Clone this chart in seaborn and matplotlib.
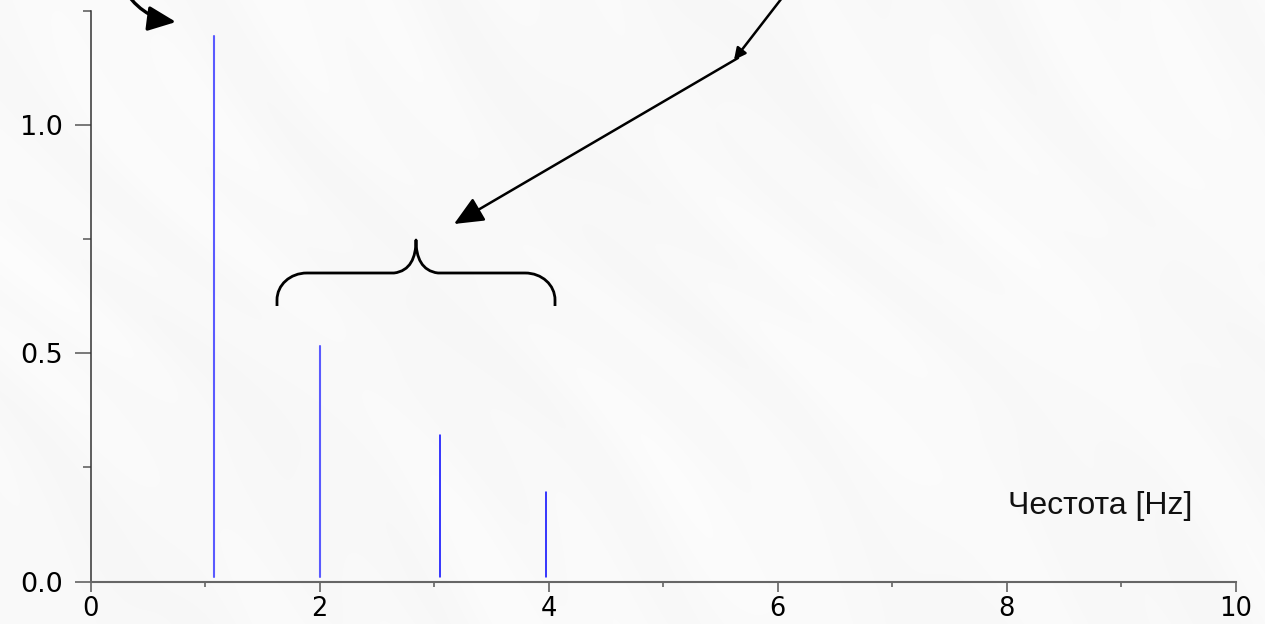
import numpy as np
import pandas as pd
import matplotlib
matplotlib.use("Agg")
import matplotlib.pyplot as plt
from matplotlib.path import Path
from matplotlib.patches import PathPatch
from matplotlib.transforms import Affine2D
from matplotlib.ticker import MultipleLocator, FormatStrFormatter
import seaborn as sns

# Spectral lines: frequency [Hz] and amplitude
freq = [1.08, 2.00, 3.05, 3.98]
amplitude = [1.195, 0.517, 0.322, 0.196]
line_group = ["fundamental", "fundamental", "harmonic", "harmonic"]
baseline = 0.01

x_ticks = [0, 2, 4, 6, 8, 10]
y_ticks = [0.0, 0.5, 1.0]
x_label = "Честота [Hz]"

W, H = 1265, 624
sns.set_theme(style="ticks")
plt.rcParams["font.family"] = ["DejaVu Sans"]

fig = plt.figure(figsize=(W / 100, H / 100), dpi=100)

# soft marble-like backdrop
bg = fig.add_axes([0, 0, 1, 1], zorder=-5)
yy, xx = np.mgrid[0:H, 0:W].astype(float)
d = xx - 0.9 * yy
tex = (0.975
       + 0.0045 * np.sin(d / 19.0 + np.sin(yy / 90.0) * 2.0) * np.sin((xx + yy) / 230.0)
       + 0.004 * np.sin(d / 47.0 + xx / 300.0)
       + 0.003 * np.sin((xx + yy) / 160.0))
bg.imshow(tex, cmap="gray", vmin=0, vmax=1, aspect="auto", interpolation="bilinear")
bg.set_axis_off()

ax = fig.add_axes([90.6 / W, 1 - 581.5 / H, (1235.7 - 90.6) / W, (581.5 - 11.0) / H])
ax.patch.set_alpha(0)

rows = []
for i, (f, a, g) in enumerate(zip(freq, amplitude, line_group)):
    rows.append({"freq": f, "amp": baseline, "line": i, "group": g})
    rows.append({"freq": f, "amp": a, "line": i, "group": g})
df = pd.DataFrame(rows)

sns.lineplot(data=df, x="freq", y="amp", units="line", estimator=None, sort=False,
             hue="group", palette={"fundamental": "#5a5aff", "harmonic": "#0000ff"},
             size="group", sizes={"fundamental": 1.5, "harmonic": 1.1},
             legend=False, ax=ax)

ax.set_xlim(0, 10)
ax.set_ylim(0, 1.25)
ax.set_xticks(x_ticks)
ax.set_yticks(y_ticks)
ax.xaxis.set_minor_locator(MultipleLocator(1))
ax.yaxis.set_minor_locator(MultipleLocator(0.25))
ax.yaxis.set_major_formatter(FormatStrFormatter("%.1f"))
ax.set_xlabel("")
ax.set_ylabel("")

for s in ["top", "right"]:
    ax.spines[s].set_visible(False)
ax.spines["left"].set_color("#333333")
ax.spines["left"].set_linewidth(1.1)
ax.spines["bottom"].set_color("#666666")
ax.spines["bottom"].set_linewidth(1.5)

ax.tick_params(axis="x", which="major", length=7.2, width=1.1, color="#555555",
               labelsize=18.5, pad=3.5, labelcolor="black")
ax.tick_params(axis="x", which="minor", length=3.6, width=1.1, color="#555555")
ax.tick_params(axis="y", which="major", length=11.5, width=1.1, color="#555555",
               labelsize=19.5, pad=8.5, labelcolor="black")
ax.tick_params(axis="y", which="minor", length=5.8, width=1.1, color="#555555")

# pixel-based placement for annotations (origin top-left)
px = Affine2D().scale(1 / W, -1 / H).translate(0, 1) + fig.transFigure

fig.text(1008 / W, 1 - 514 / H, x_label, fontsize=23, family=["Liberation Sans", "DejaVu Sans"],
         ha="left", va="baseline", color="#111111")

# curved arrow pointing at the fundamental
ax.annotate("", xy=(176, 22), xycoords=px, xytext=(122, -14), textcoords=px,
            annotation_clip=False,
            arrowprops=dict(arrowstyle="-|>,head_length=0.85,head_width=0.38",
                            mutation_scale=20, color="black", lw=2.4,
                            connectionstyle="arc3,rad=0.25", shrinkA=0, shrinkB=0))

# broken arrow pointing at the harmonics brace
ax.annotate("", xy=(734, 60), xycoords=px, xytext=(792, -15), textcoords=px,
            annotation_clip=False,
            arrowprops=dict(arrowstyle="-|>,head_length=0.5,head_width=0.25",
                            mutation_scale=14, color="black", lw=1.8,
                            shrinkA=0, shrinkB=0))
ax.annotate("", xy=(454, 224), xycoords=px, xytext=(738, 58), textcoords=px,
            annotation_clip=False,
            arrowprops=dict(arrowstyle="-|>,head_length=0.9,head_width=0.4",
                            mutation_scale=20, color="black", lw=1.8,
                            shrinkA=0, shrinkB=0))

# curly brace over the harmonics
verts = [(277, 306), (277, 300),
         (277, 285), (290, 273), (307, 273),
         (394, 273),
         (410, 271), (416, 258), (416, 240),
         (416, 258), (422, 271), (438, 273),
         (525, 273),
         (542, 273), (555, 285), (555, 300),
         (555, 306)]
codes = [Path.MOVETO, Path.LINETO,
         Path.CURVE4, Path.CURVE4, Path.CURVE4,
         Path.LINETO,
         Path.CURVE4, Path.CURVE4, Path.CURVE4,
         Path.CURVE4, Path.CURVE4, Path.CURVE4,
         Path.LINETO,
         Path.CURVE4, Path.CURVE4, Path.CURVE4,
         Path.LINETO]
brace = PathPatch(Path(verts, codes), transform=px, fill=False, lw=2.0,
                  edgecolor="black", capstyle="butt", joinstyle="round")
fig.add_artist(brace)

fig.savefig("out.png", dpi=100)
